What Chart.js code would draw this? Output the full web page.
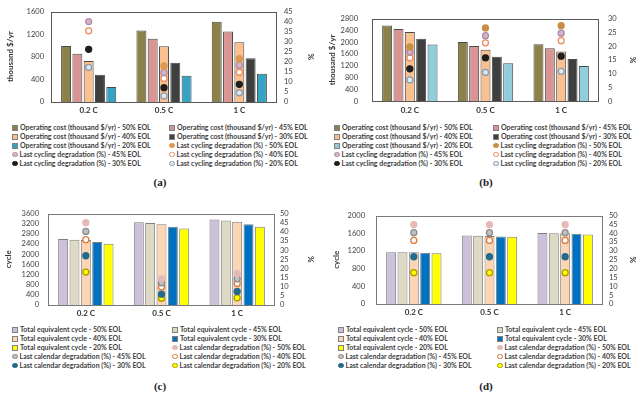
<!DOCTYPE html>
<html>
<head>
<meta charset="utf-8">
<script src="https://cdn.jsdelivr.net/npm/chart.js@4"></script>
<style>
body{margin:0;background:#fff;width:643px;height:397px;overflow:hidden;position:relative;font-family:Lato,sans-serif}
canvas{position:absolute}
.legend{position:absolute;display:grid;font:bold 7px Lato,sans-serif;color:#404040}
.legend div{height:9px;line-height:9px;white-space:nowrap;display:flex;align-items:center}
.sw{display:inline-block;width:4px;height:4px;margin-right:2px;border:1px solid #808080;flex:none}
.dot{display:inline-block;width:3.5px;height:3.5px;margin-right:2px;border-radius:50%;border:1.2px solid;flex:none}
.cap{position:absolute;font:bold 11px "Liberation Serif",serif;color:#222;transform:translateX(-50%)}
</style>
</head>
<body>
<script>
///////////////////////////////////////////////////////////////////////////////
// data
const categories = ["0.2 C", "0.5 C", "1 C"];
const eol = ["50% EOL", "45% EOL", "40% EOL", "30% EOL", "20% EOL"];

// (a) operating cost (thousand $/yr) and last cycling degradation (%)
const opCostA50 = [990, 1265, 1420];
const opCostA45 = [855, 1120, 1245];
const opCostA40 = [725, 985, 1055];
const opCostA30 = [480, 695, 775];
const opCostA20 = [265, 465, 500];
const cycDegA50 = [null, 17.9, 21.5];
const cycDegA45 = [40.0, 14.6, 18.3];
const cycDegA40 = [35.4, 11.7, 14.8];
const cycDegA30 = [26.2, 7.1, 8.8];
const cycDegA20 = [17.2, 3.0, 4.6];

// (b)
const opCostB50 = [2560, 2010, 1935];
const opCostB45 = [2450, 1875, 1800];
const opCostB40 = [2345, 1750, 1685];
const opCostB30 = [2115, 1510, 1435];
const opCostB20 = [1925, 1290, 1195];
const cycDegB50 = [19.7, 26.6, 27.4];
const cycDegB45 = [17.9, 23.8, 24.7];
const cycDegB40 = [15.8, 21.2, 22.0];
const cycDegB30 = [11.8, 15.8, 16.4];
const cycDegB20 = [7.8, 10.5, 10.9];

// (c) total equivalent cycle and last calendar degradation (%)
const cycleC50 = [2595, 3260, 3360];
const cycleC45 = [2570, 3225, 3320];
const cycleC40 = [2555, 3175, 3275];
const cycleC30 = [2475, 3080, 3175];
const cycleC20 = [2410, 3005, 3080];
const calDegC50 = [45.0, 14.3, 17.2];
const calDegC45 = [40.2, 12.1, 14.3];
const calDegC40 = [35.7, 9.9, 11.8];
const calDegC30 = [26.9, 5.9, 7.4];
const calDegC20 = [18.0, 3.7, 3.9];

// (d)
const cycleD50 = [1170, 1550, 1605];
const cycleD45 = [1170, 1545, 1600];
const cycleD40 = [1168, 1538, 1598];
const cycleD30 = [1158, 1525, 1585];
const cycleD20 = [1145, 1518, 1572];
const calDegD50 = [44.9, 44.9, 44.9];
const calDegD45 = [40.3, 40.3, 40.3];
const calDegD40 = [35.9, 35.9, 35.9];
const calDegD30 = [26.7, 26.7, 26.7];
const calDegD20 = [17.7, 17.7, 17.7];


///////////////////////////////////////////////////////////////////////////////
// helpers
function bars(label, data, color, border)
{
    return { type: "bar", label, data, backgroundColor: color, borderColor: border,
             borderWidth: 1, order: 2, yAxisID: "y",
             categoryPercentage: 0.75, barPercentage: 0.88 };
}

function dots(label, data, fill, border)
{
    return { type: "line", label, data, showLine: false, yAxisID: "y2", order: 1,
             pointRadius: 3, pointBorderWidth: 1.3,
             pointBackgroundColor: fill, pointBorderColor: border,
             backgroundColor: fill, borderColor: border };
}

// draws the box round the plot area
const frame = {
    id: "frame",
    afterDraw(chart, args, opts)
    {
        let a = chart.chartArea, c = chart.ctx;
        c.save();
        c.strokeStyle = opts.color || "#595959";
        c.lineWidth = 1;
        c.strokeRect(Math.round(a.left) + 0.5, Math.round(a.top) + 0.5,
                     Math.round(a.right - a.left) - 1, Math.round(a.bottom - a.top) - 1);
        c.restore();
    }
};

function panel(p)
{
    let cv = document.createElement("canvas");
    cv.width = p.w; cv.height = p.h;
    cv.style.left = p.x + "px"; cv.style.top = p.y + "px";
    document.body.appendChild(cv);

    let tickFont = { size: 7.5, family: "Lato" };
    let titleFont = { size: 8, weight: "bold", family: "Lato" };

    let chart = new Chart(cv.getContext("2d"),
    {
        data: { labels: categories, datasets: p.datasets },
        plugins: [frame],
        options:
        {
            responsive: false,
            animation: false,
            layout: { padding: { top: p.top, left: 0, right: 0, bottom: 0 } },
            plugins:
            {
                legend: { display: false },
                tooltip: { enabled: false },
                frame: { color: p.frameColor }
            },
            scales:
            {
                x:
                {
                    grid: { display: false, drawTicks: false },
                    border: { display: false },
                    ticks: { font: { size: 8, weight: "bold", family: "Lato" }, color: "#333", padding: 4 },
                    afterFit: s => { s.height = p.h - p.bottom; }
                },
                y:
                {
                    position: "left", min: 0, max: p.yMax,
                    grid: { display: false, drawTicks: false },
                    border: { display: false },
                    ticks: { stepSize: 400, autoSkip: false, font: tickFont, color: "#404040",
                             padding: p.yPad, callback: v => String(v) },
                    title: { display: true, text: p.yTitle, font: titleFont, color: "#333",
                             padding: { top: p.yTitlePad, bottom: 0 } },
                    afterFit: s => { s.width = p.leftW; }
                },
                y2:
                {
                    position: "right", min: 0, max: p.y2Max,
                    grid: { display: false, drawTicks: false },
                    border: { display: false },
                    ticks: { stepSize: 5, autoSkip: false, font: tickFont, color: "#404040",
                             padding: p.y2Pad, callback: v => String(v) },
                    title: { display: true, text: "%", font: titleFont, color: "#333",
                             padding: { top: 6, bottom: 0 } },
                    afterFit: s => { s.width = p.rightW; }
                }
            }
        }
    });

    // two column legend, items taken from the datasets
    let lg = document.createElement("div");
    lg.className = "legend";
    lg.style.left = p.lx + "px"; lg.style.top = p.ly + "px";
    lg.style.gridTemplateColumns = p.colW + "px " + p.colW + "px";
    chart.data.datasets.forEach(d =>
    {
        let item = document.createElement("div");
        let sw = document.createElement("span");
        if(d.type === "bar")
        {
            sw.className = "sw";
            sw.style.background = d.backgroundColor;
        }
        else
        {
            sw.className = "dot";
            sw.style.background = d.pointBackgroundColor;
            sw.style.borderColor = d.pointBorderColor;
        }
        item.appendChild(sw);
        item.appendChild(document.createTextNode(d.label));
        lg.appendChild(item);
    });
    document.body.appendChild(lg);

    let cap = document.createElement("div");
    cap.className = "cap";
    cap.textContent = p.caption;
    cap.style.left = p.cx + "px"; cap.style.top = p.cy + "px";
    document.body.appendChild(cap);
}


///////////////////////////////////////////////////////////////////////////////
const op = "Operating cost (thousand $/yr) - ";
const lcy = "Last cycling degradation (%) - ";
const tec = "Total equivalent cycle - ";
const lca = "Last calendar degradation (%) - ";

panel({
    x: 0, y: 0, w: 321, h: 120, top: 5, bottom: 102, leftW: 51, rightW: 44,
    yMax: 1600, y2Max: 45, yTitle: "thousand $/yr", yTitlePad: 6, yPad: 7, y2Pad: 7,
    frameColor: "#595959",
    lx: 12, ly: 123, colW: 157, caption: "(a)", cx: 160, cy: 176,
    datasets: [
        bars(op + eol[0], opCostA50, "#8c8149", "#4a4a4a"),
        bars(op + eol[1], opCostA45, "#d99594", "#4a4a4a"),
        bars(op + eol[2], opCostA40, "#fac08f", "#4a4a4a"),
        bars(op + eol[3], opCostA30, "#3f3f3f", "#4a4a4a"),
        bars(op + eol[4], opCostA20, "#37a3c4", "#4a4a4a"),
        dots(lcy + eol[0], cycDegA50, "#dd9a4e", "#dd9a4e"),
        dots(lcy + eol[1], cycDegA45, "#d9b3c3", "#b08fae"),
        dots(lcy + eol[2], cycDegA40, "#ffffff", "#ec8a5c"),
        dots(lcy + eol[3], cycDegA30, "#1e1e1e", "#1e1e1e"),
        dots(lcy + eol[4], cycDegA20, "#dfe8f0", "#8b9bb0")
    ]
});

panel({
    x: 321, y: 0, w: 322, h: 120, top: 5, bottom: 102, leftW: 51, rightW: 44,
    yMax: 2800, y2Max: 30, yTitle: "thousand $/yr", yTitlePad: 7, yPad: 14, y2Pad: 9,
    frameColor: "#595959",
    lx: 334, ly: 123, colW: 159, caption: "(b)", cx: 486, cy: 176,
    datasets: [
        bars(op + eol[0], opCostB50, "#8c8149", "#4a4a4a"),
        bars(op + eol[1], opCostB45, "#d99594", "#4a4a4a"),
        bars(op + eol[2], opCostB40, "#fac08f", "#4a4a4a"),
        bars(op + eol[3], opCostB30, "#3f3f3f", "#4a4a4a"),
        bars(op + eol[4], opCostB20, "#92cddc", "#4a4a4a"),
        dots(lcy + eol[0], cycDegB50, "#c98f45", "#c98f45"),
        dots(lcy + eol[1], cycDegB45, "#d9b3c3", "#a98aae"),
        dots(lcy + eol[2], cycDegB40, "#ffffff", "#ec8a5c"),
        dots(lcy + eol[3], cycDegB30, "#1e1e1e", "#1e1e1e"),
        dots(lcy + eol[4], cycDegB20, "#dfe8f0", "#8b9bb0")
    ]
});

panel({
    x: 0, y: 200, w: 321, h: 123, top: 6, bottom: 105, leftW: 48, rightW: 46,
    yMax: 3600, y2Max: 50, yTitle: "cycle", yTitlePad: 4, yPad: 9, y2Pad: 5,
    frameColor: "#7a7a7a",
    lx: 12, ly: 325, colW: 160, caption: "(c)", cx: 160, cy: 380,
    datasets: [
        bars(tec + eol[0], cycleC50, "#ccc1da", "#7f7f7f"),
        bars(tec + eol[1], cycleC45, "#ddd9c3", "#7f7f7f"),
        bars(tec + eol[2], cycleC40, "#fcd5b4", "#7f7f7f"),
        bars(tec + eol[3], cycleC30, "#0070c0", "#7f7f7f"),
        bars(tec + eol[4], cycleC20, "#ffff00", "#7f7f7f"),
        dots(lca + eol[0], calDegC50, "#e6b9b8", "#e6b9b8"),
        dots(lca + eol[1], calDegC45, "#c0c0c0", "#8c8c8c"),
        dots(lca + eol[2], calDegC40, "#ffffff", "#e07b39"),
        dots(lca + eol[3], calDegC30, "#236b8e", "#236b8e"),
        dots(lca + eol[4], calDegC20, "#ffff00", "#b09a00")
    ]
});

panel({
    x: 321, y: 200, w: 322, h: 122, top: 6, bottom: 104, leftW: 55, rightW: 40,
    yMax: 2000, y2Max: 50, yTitle: "cycle", yTitlePad: 11, yPad: 11, y2Pad: 6,
    frameColor: "#7a7a7a",
    lx: 338, ly: 325, colW: 159, caption: "(d)", cx: 486, cy: 380,
    datasets: [
        bars(tec + eol[0], cycleD50, "#ccc1da", "#7f7f7f"),
        bars(tec + eol[1], cycleD45, "#ddd9c3", "#7f7f7f"),
        bars(tec + eol[2], cycleD40, "#fcd5b4", "#7f7f7f"),
        bars(tec + eol[3], cycleD30, "#0070c0", "#7f7f7f"),
        bars(tec + eol[4], cycleD20, "#ffff00", "#7f7f7f"),
        dots(lca + eol[0], calDegD50, "#e6b9b8", "#e6b9b8"),
        dots(lca + eol[1], calDegD45, "#c0c0c0", "#8c8c8c"),
        dots(lca + eol[2], calDegD40, "#ffffff", "#e07b39"),
        dots(lca + eol[3], calDegD30, "#236b8e", "#236b8e"),
        dots(lca + eol[4], calDegD20, "#ffff00", "#b09a00")
    ]
});
</script>
</body>
</html>
